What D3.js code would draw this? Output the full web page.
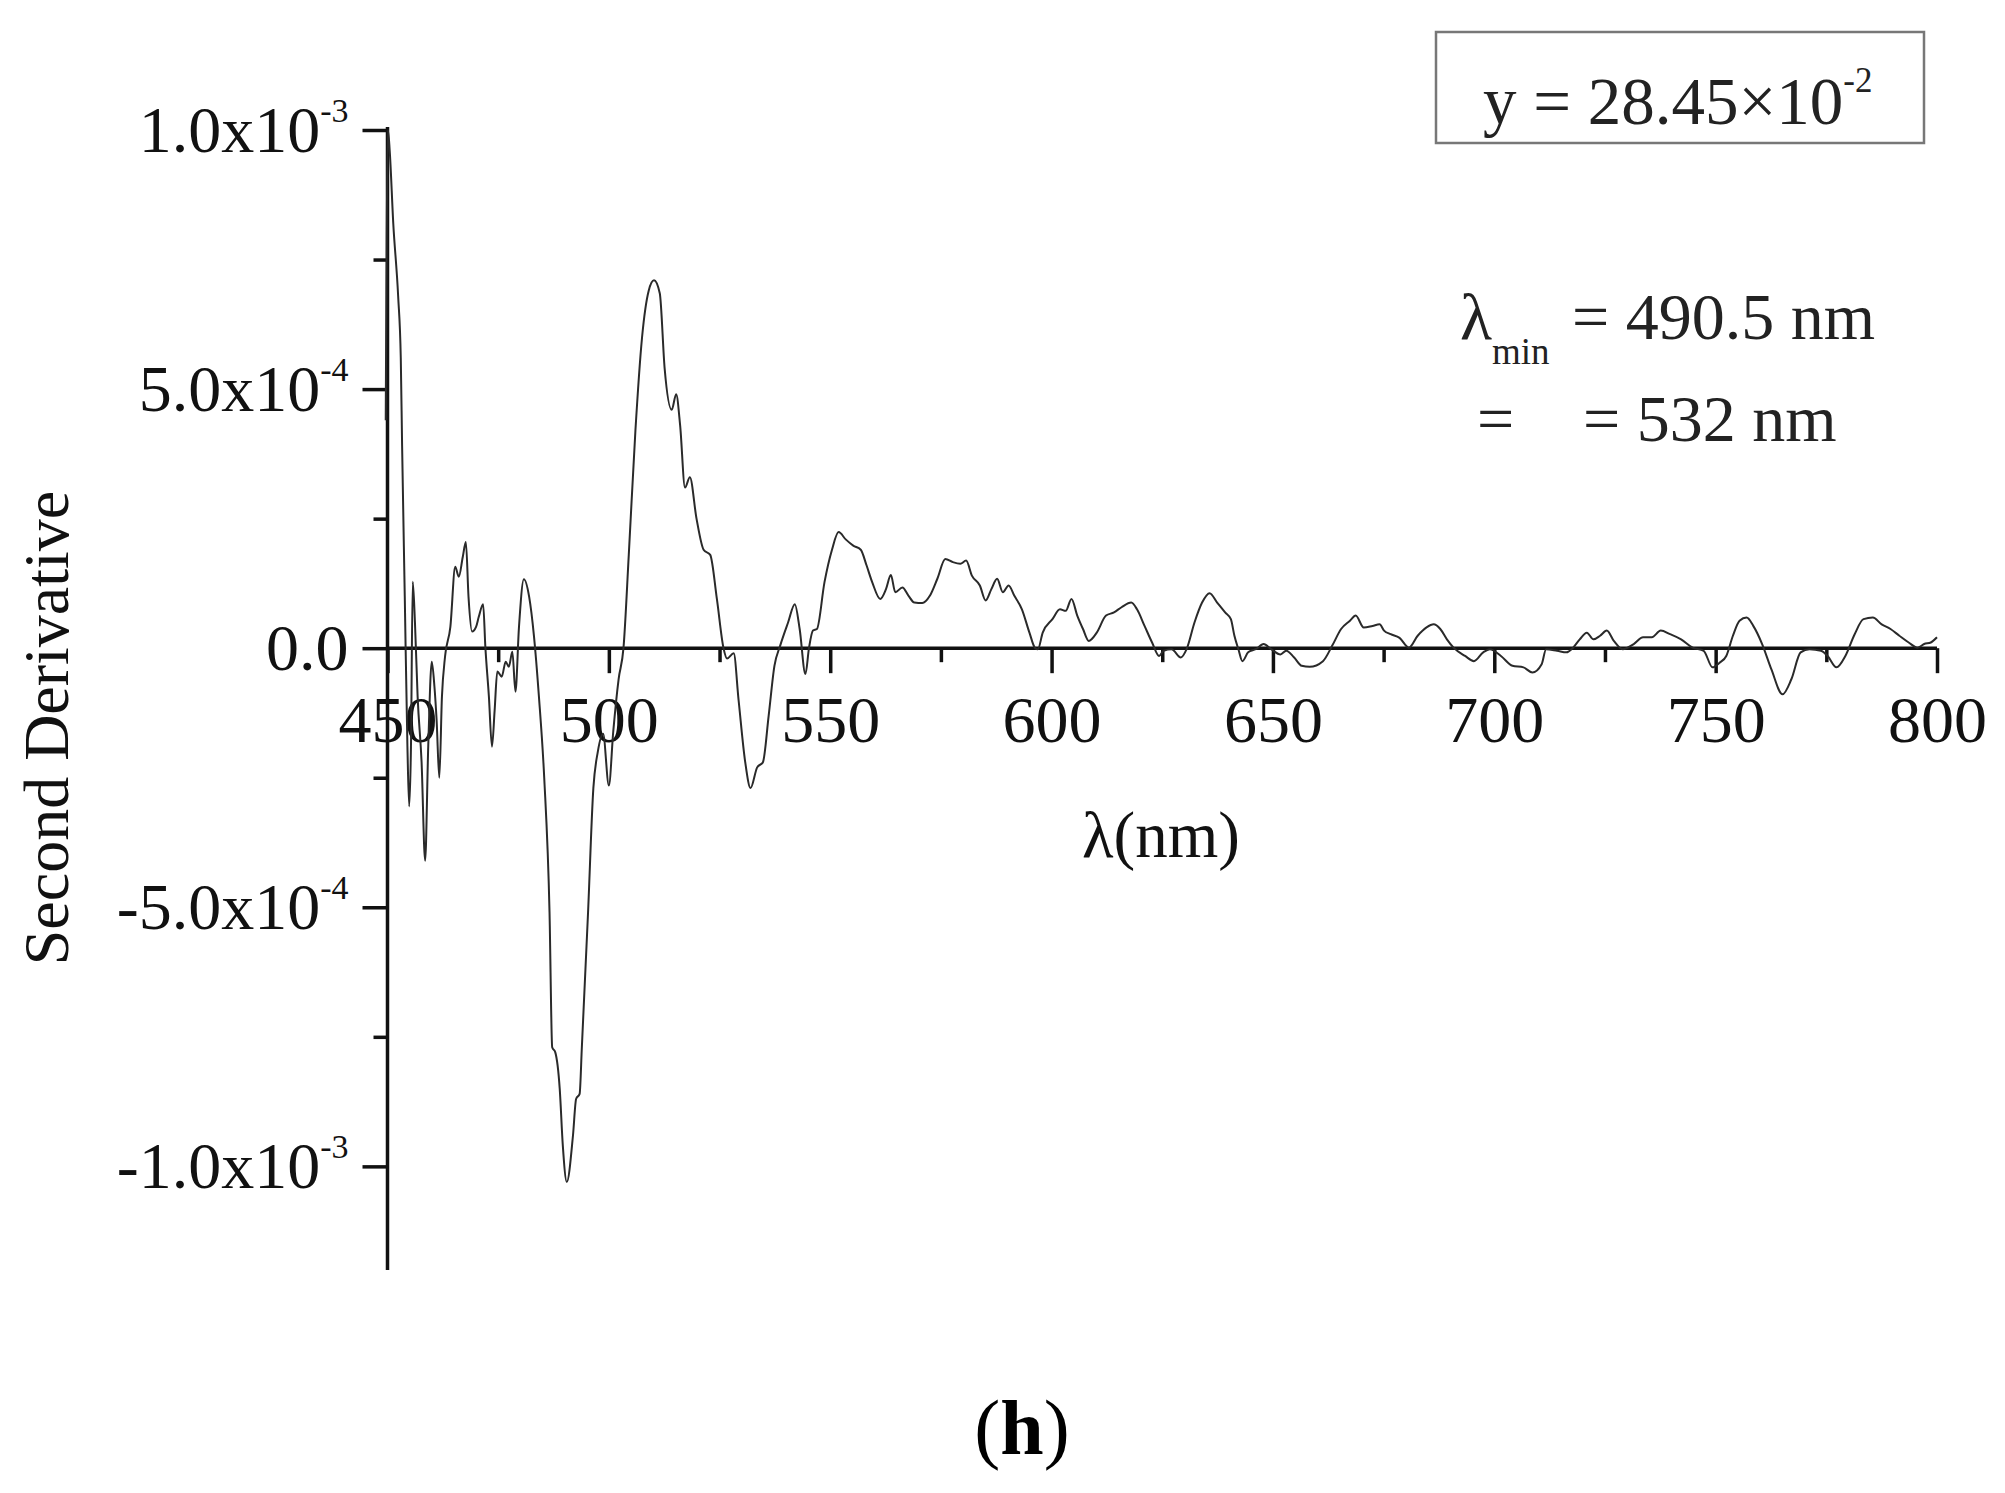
<!DOCTYPE html>
<html>
<head>
<meta charset="utf-8">
<script src="https://cdn.jsdelivr.net/npm/d3@7"></script>
<style>
  body { margin: 0; background: #fff; }
  svg text { font-family: "Liberation Serif", "Times New Roman", serif; }
</style>
</head>
<body>
<svg id="chart" width="2005" height="1493"></svg>
<script>
const UNIT = 1e-4;
const wavelength = [
  449.6, 450.1, 450.5, 451.3, 452.4, 453.0, 453.3, 453.9, 454.5, 454.9,
  455.3, 455.7, 456.2, 456.8, 457.7, 458.5, 459.2, 460.0, 460.6, 461.1,
  461.7, 462.3, 463.0, 464.2, 465.3, 466.1, 467.0, 467.7, 468.3, 469.1,
  470.0, 470.6, 471.6, 472.1, 472.9, 473.6, 474.2, 474.8, 475.8, 476.7,
  477.4, 478.2, 478.9, 479.7, 480.8, 482.0, 483.1, 484.2, 485.4, 486.6,
  487.2, 487.9, 488.9, 489.6, 490.5, 491.9, 492.6, 493.4, 493.9, 495.3,
  496.5, 497.5, 498.7, 500.0, 501.0, 502.2, 503.3, 504.5, 506.0, 507.5,
  509.0, 510.2, 511.5, 512.6, 514.2, 515.2, 516.1, 517.2, 518.3, 519.8,
  521.4, 522.9, 524.4, 525.9, 526.7, 528.2, 529.3, 530.8, 532.0, 533.5,
  534.8, 536.1, 537.4, 538.7, 540.5, 542.0, 543.1, 544.4, 545.2, 546.1,
  547.0, 548.7, 550.4, 551.9, 553.5, 555.2, 556.9, 558.2, 559.5, 561.3,
  562.6, 563.7, 564.7, 566.3, 567.7, 569.0, 570.8, 572.5, 574.2, 576.0,
  577.7, 579.4, 580.7, 582.0, 583.8, 585.1, 586.4, 587.7, 589.0, 590.3,
  591.6, 593.3, 595.0, 596.3, 596.9, 598.0, 600.2, 601.9, 603.2, 604.5,
  605.8, 607.1, 608.4, 610.2, 612.3, 614.1, 615.8, 618.0, 619.3, 621.0,
  622.7, 624.3, 625.3, 627.1, 629.2, 630.5, 632.3, 634.0, 635.7, 637.4,
  639.2, 640.5, 641.3, 642.2, 643.1, 644.4, 646.1, 647.9, 649.6, 651.7,
  653.0, 654.8, 656.5, 658.3, 661.3, 663.4, 665.4, 667.4, 668.7, 670.5,
  672.5, 674.1, 675.1, 676.6, 678.6, 680.7, 682.7, 684.7, 686.3, 687.8,
  689.3, 690.8, 693.4, 695.4, 697.5, 699.0, 701.5, 704.1, 706.6, 708.6,
  710.7, 711.7, 714.2, 716.3, 717.8, 719.3, 720.9, 722.4, 723.9, 725.4,
  727.0, 729.0, 731.5, 733.6, 735.6, 737.6, 739.7, 742.2, 744.8, 747.3,
  749.3, 750.9, 752.4, 753.9, 755.4, 757.0, 758.5, 760.5, 762.6, 765.1,
  767.1, 769.2, 771.2, 773.8, 775.3, 777.3, 779.3, 781.4, 783.4, 785.5,
  787.5, 789.5, 791.5, 793.6, 795.6, 797.1, 798.6, 800.0
];
const secondDeriv = [
  4.4, 10.0, 9.6, 8.2, 6.8, 5.6, 3.9, 1.0, -1.9, -3.05,
  -1.9, 1.28, 0.5, -0.93, -2.2, -4.1, -1.9, -0.26, -0.74, -1.4,
  -2.5, -0.93, -0.16, 0.41, 1.57, 1.38, 1.76, 2.05, 0.99, 0.32,
  0.41, 0.6, 0.85, 0.03, -0.93, -1.9, -1.2, -0.45, -0.55, -0.26,
  -0.36, -0.07, -0.84, 0.41, 1.33, 0.99, 0.22, -0.93, -2.5, -5.1,
  -7.7, -7.8, -8.5, -9.6, -10.3, -9.4, -8.7, -8.6, -7.7, -5.1,
  -2.7, -2.0, -1.65, -2.65, -1.6, -0.6, 0, 1.8, 4.2, 6.0,
  6.9, 7.1, 6.85, 5.4, 4.6, 4.9, 4.3, 3.1, 3.3, 2.5,
  1.9, 1.8, 0.95, 0, -0.2, -0.1, -1.0, -2.2, -2.7, -2.3,
  -2.2, -1.3, -0.34, 0.05, 0.5, 0.85, 0.37, -0.5, 0, 0.34,
  0.37, 1.27, 1.9, 2.24, 2.1, 1.98, 1.9, 1.6, 1.27, 0.95,
  1.14, 1.41, 1.08, 1.17, 1.01, 0.88, 0.87, 1.01, 1.34, 1.72,
  1.66, 1.63, 1.69, 1.4, 1.21, 0.92, 1.14, 1.34, 1.08, 1.21,
  1.01, 0.75, 0.3, 0, -0.02, 0.3, 0.56, 0.75, 0.72, 0.95,
  0.63, 0.37, 0.14, 0.3, 0.63, 0.69, 0.79, 0.88, 0.75, 0.43,
  0.11, -0.15, -0.05, -0.02, -0.18, -0.02, 0.5, 0.88, 1.06, 0.88,
  0.69, 0.56, 0.24, -0.02, -0.25, -0.08, -0.02, 0.08, -0.02, -0.12,
  -0.05, -0.18, -0.34, -0.36, -0.25, 0.05, 0.37, 0.53, 0.63, 0.4,
  0.43, 0.46, 0.34, 0.27, 0.2, 0.01, 0.24, 0.4, 0.46, 0.37,
  0.17, 0.01, -0.15, -0.25, -0.08, -0.02, -0.15, -0.34, -0.37, -0.47,
  -0.31, -0.02, -0.05, -0.08, 0.01, 0.17, 0.3, 0.17, 0.24, 0.34,
  0.14, -0.02, 0.08, 0.21, 0.21, 0.34, 0.27, 0.17, 0.01, -0.05,
  -0.37, -0.28, -0.15, 0.24, 0.53, 0.59, 0.43, 0.08, -0.41, -0.89,
  -0.6, -0.08, -0.02, -0.05, -0.15, -0.37, -0.15, 0.27, 0.56, 0.59,
  0.46, 0.37, 0.24, 0.11, 0.01, 0.08, 0.11, 0.21
];

const xMajorTicks = [450, 500, 550, 600, 650, 700, 750, 800];
const xMinorTicks = [475, 525, 575, 625, 675, 725, 775];
const yMajorTicks = [1e-3, 5e-4, 0, -5e-4, -1e-3];
const yMinorTicks = [7.5e-4, 2.5e-4, -2.5e-4, -7.5e-4];
const yTickLabels = [
  { main: '1.0x10', sup: '-3' },
  { main: '5.0x10', sup: '-4' },
  { main: '0.0', sup: '' },
  { main: '-5.0x10', sup: '-4' },
  { main: '-1.0x10', sup: '-3' }
];
const yDomain = [-1.2e-3, 1.0e-3];

const svg = d3.select('#chart');

const x = d3.scaleLinear().domain([450, 800]).range([387.5, 1937]);
const y = d3.scaleLinear().domain(yDomain).range([1270, 130]);

const axisColour = '#111';
const tickFont = 66;

// x axis (major + minor)
const xAxisG = svg.append('g')
  .attr('transform', `translate(0, ${y(0)})`)
  .call(d3.axisBottom(x).tickValues(xMajorTicks).tickSize(25).tickPadding(22).tickFormat(d3.format('d')));
xAxisG.select('.domain').remove();
xAxisG.selectAll('line').attr('stroke', axisColour).attr('stroke-width', 3.5);
xAxisG.selectAll('text')
  .attr('font-size', tickFont)
  .attr('fill', '#111')
  .style('font-family', '"Liberation Serif", serif');

const xMinorG = svg.append('g')
  .attr('transform', `translate(0, ${y(0)})`)
  .call(d3.axisBottom(x).tickValues(xMinorTicks).tickSize(14).tickFormat(''));
xMinorG.select('.domain').remove();
xMinorG.selectAll('line').attr('stroke', axisColour).attr('stroke-width', 3.5);

// y axis (major + minor)
const yAxisG = svg.append('g')
  .attr('transform', `translate(${x(450)}, 0)`)
  .call(d3.axisLeft(y).tickValues(yMajorTicks).tickSize(25).tickFormat(''));
yAxisG.select('.domain').remove();
yAxisG.selectAll('line').attr('stroke', axisColour).attr('stroke-width', 3.5);

yAxisG.selectAll('.tick').each(function(d, i) {
  const lab = yTickLabels[i];
  const t = d3.select(this).append('text')
    .attr('x', -39)
    .attr('y', 21)
    .attr('text-anchor', 'end')
    .attr('fill', '#111')
    .attr('font-size', tickFont)
    .style('font-family', '"Liberation Serif", serif');
  t.append('tspan').text(lab.main);
  if (lab.sup) {
    t.append('tspan').attr('dy', -30).attr('font-size', 34).text(lab.sup);
  }
});

const yMinorG = svg.append('g')
  .attr('transform', `translate(${x(450)}, 0)`)
  .call(d3.axisLeft(y).tickValues(yMinorTicks).tickSize(14).tickFormat(''));
yMinorG.select('.domain').remove();
yMinorG.selectAll('line').attr('stroke', axisColour).attr('stroke-width', 3.5);

// axis lines
svg.append('line')
  .attr('x1', x(450)).attr('x2', x(450))
  .attr('y1', y(yDomain[0])).attr('y2', y(yDomain[1]) - 3)
  .attr('stroke', axisColour).attr('stroke-width', 3.5);
svg.append('line')
  .attr('x1', x(450)).attr('x2', x(800))
  .attr('y1', y(0)).attr('y2', y(0))
  .attr('stroke', axisColour).attr('stroke-width', 3.5);

// the curve
const points = wavelength.map((w, i) => [w, secondDeriv[i] * UNIT]);
svg.append('path')
  .datum(points)
  .attr('d', d3.line().curve(d3.curveMonotoneX).x(d => x(d[0])).y(d => y(d[1])))
  .attr('fill', 'none')
  .attr('stroke', '#2a2a2a')
  .attr('stroke-width', 2)
  .attr('stroke-linejoin', 'round');

// axis titles
svg.append('text')
  .text('λ(nm)')
  .attr('x', 1161)
  .attr('y', 857)
  .attr('text-anchor', 'middle')
  .attr('font-size', 65)
  .attr('fill', '#111');

svg.append('text')
  .text('Second Derivative')
  .attr('transform', 'translate(68, 728) rotate(-90)')
  .attr('text-anchor', 'middle')
  .attr('font-size', 64)
  .attr('fill', '#111');

// box with y value
svg.append('rect')
  .attr('x', 1436).attr('y', 32)
  .attr('width', 488).attr('height', 111)
  .attr('fill', 'none')
  .attr('stroke', '#777')
  .attr('stroke-width', 2.5);
const yText = svg.append('text')
  .attr('x', 1483).attr('y', 124)
  .attr('font-size', 67)
  .attr('fill', '#222');
yText.append('tspan').text('y = 28.45×10');
yText.append('tspan').attr('dy', -32).attr('font-size', 35).text('-2');

// minimum annotations
const lm = svg.append('text')
  .attr('x', 1460).attr('y', 339)
  .attr('font-size', 66)
  .attr('fill', '#222');
lm.append('tspan').text('λ');
lm.append('tspan').attr('dy', 25).attr('font-size', 37).text('min');
svg.append('text')
  .attr('x', 1572).attr('y', 339)
  .attr('font-size', 66)
  .attr('fill', '#222')
  .text('= 490.5 nm');

svg.append('text')
  .attr('x', 1477).attr('y', 441)
  .attr('font-size', 66)
  .attr('fill', '#222')
  .text('=');
svg.append('text')
  .attr('x', 1583).attr('y', 441)
  .attr('font-size', 66)
  .attr('fill', '#222')
  .text('= 532 nm');

// panel label
const panel = svg.append('text')
  .attr('x', 1022).attr('y', 1454)
  .attr('text-anchor', 'middle')
  .attr('font-size', 78)
  .attr('fill', '#000');
panel.append('tspan').text('(');
panel.append('tspan').attr('font-weight', 'bold').text('h');
panel.append('tspan').text(')');
</script>
</body>
</html>
